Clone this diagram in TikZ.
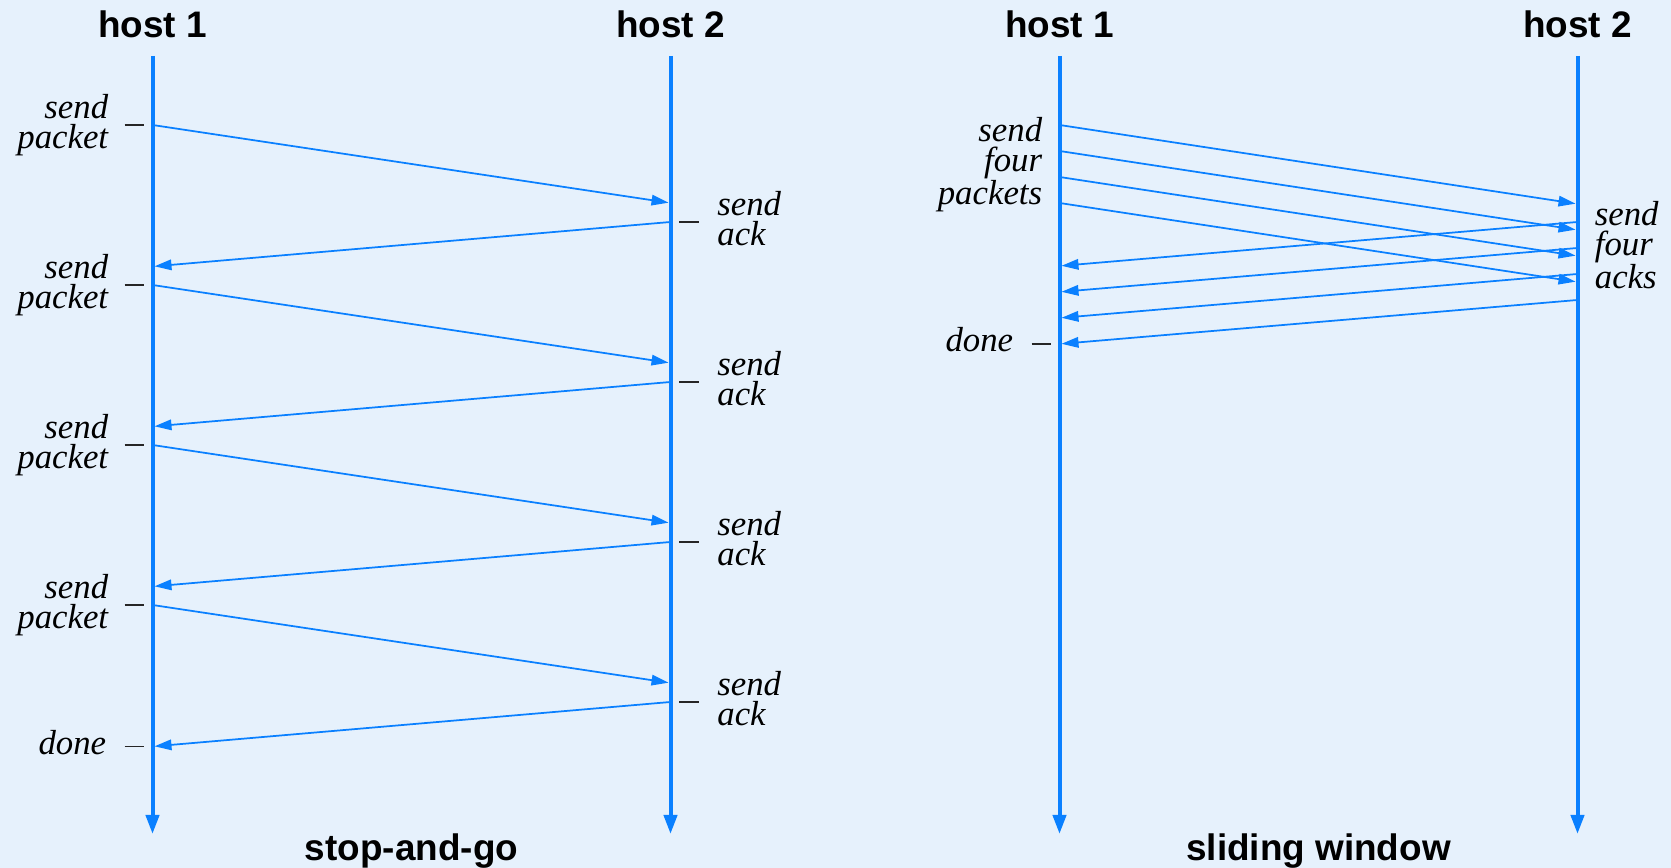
\documentclass[tikz,border=0pt]{standalone}
\usepackage{fontspec}
\setmainfont{Liberation Serif}
\setsansfont{Liberation Sans}
\usepackage{tikz}
\usetikzlibrary{arrows.meta,positioning}
\definecolor{linkblue}{RGB}{10,128,255}
\definecolor{paper}{RGB}{230,241,252}
\tikzset{
  timeline/.style={draw=linkblue,line width=0.08cm,-{Triangle[length=0.38cm,width=0.26cm]}},
  msgarrow/.style={draw=linkblue,line width=0.035cm,-{Triangle[length=0.34cm,width=0.21cm]},shorten >=0.04cm},
  tickmark/.style={draw=black!85,line width=0.035cm},
  hostlabel/.style={font=\sffamily\bfseries\fontsize{21}{25}\selectfont,anchor=base,inner sep=0pt},
  eventlabel/.style={font=\itshape\fontsize{19.8}{16.8}\selectfont,inner sep=0pt}
}

\begin{document}
\begin{tikzpicture}
  \useasboundingbox (0,0) rectangle (33.42,17.36);
  \fill[paper] (0,0) rectangle (33.42,17.36);
  % the four time lines
  \foreach \h/\x/\t in {a/3.05/host 1,b/13.41/host 2,c/21.19/host 1,d/31.55/host 2}{
    \coordinate (top\h) at (\x,16.24);
    \coordinate (end\h) at (\x,0.68);
    \node[hostlabel] (head\h) at (\x,16.6) {\t};
    \draw[timeline] (top\h) -- (end\h);
  }
  % stop-and-go
  \foreach \k in {0,...,3}{
    \coordinate (sp\k) at (3.05,14.86-3.2*\k);
    \coordinate (rp\k) at (13.41,13.30-3.2*\k);
    \coordinate (sa\k) at (13.41,12.92-3.2*\k);
    \coordinate (ra\k) at (3.05,12.03-3.2*\k);
    \draw[msgarrow] (sp\k) -- (rp\k);
    \draw[msgarrow] (sa\k) -- (ra\k);
    \draw[tickmark] ([xshift=-0.56cm]sp\k) -- ([xshift=-0.17cm]sp\k);
    \draw[tickmark] ([xshift=0.17cm]sa\k) -- ([xshift=0.56cm]sa\k);
    \node[eventlabel,align=right,left=0.88cm of sp\k] (lp\k) {send\\packet};
    \node[eventlabel,align=left,right=0.93cm of sa\k,yshift=0.07cm] (la\k) {send\\ack};
  }
  \draw[tickmark] ([xshift=-0.56cm]ra3) -- ([xshift=-0.17cm]ra3);
  \node[eventlabel,left=0.92cm of ra3,yshift=0.08cm] (doneleft) {done};
  % sliding window
  \foreach \k in {0,...,3}{
    \coordinate (wsp\k) at (21.19,14.86-0.52*\k);
    \coordinate (wrp\k) at (31.55,13.28-0.52*\k);
    \coordinate (wsa\k) at (31.55,12.92-0.52*\k);
    \coordinate (wra\k) at (21.19,12.04-0.52*\k);
    \draw[msgarrow] (wsp\k) -- (wrp\k);
    \draw[msgarrow] (wsa\k) -- (wra\k);
  }
  \node[eventlabel,align=right,anchor=east] (wlp) at (20.85,14.06) {send\\four\\packets};
  \node[eventlabel,align=left,anchor=west] (wla) at (31.89,12.45) {send\\four\\acks};
  \draw[tickmark] ([xshift=-0.56cm]wra3) -- ([xshift=-0.17cm]wra3);
  \node[eventlabel,left=0.92cm of wra3,yshift=0.08cm] (doneright) {done};
  % captions
  \node[hostlabel] (capleft) at (8.23,0.14) {stop-and-go};
  \node[hostlabel] (capright) at (26.37,0.14) {sliding window};
\end{tikzpicture}
\end{document}
